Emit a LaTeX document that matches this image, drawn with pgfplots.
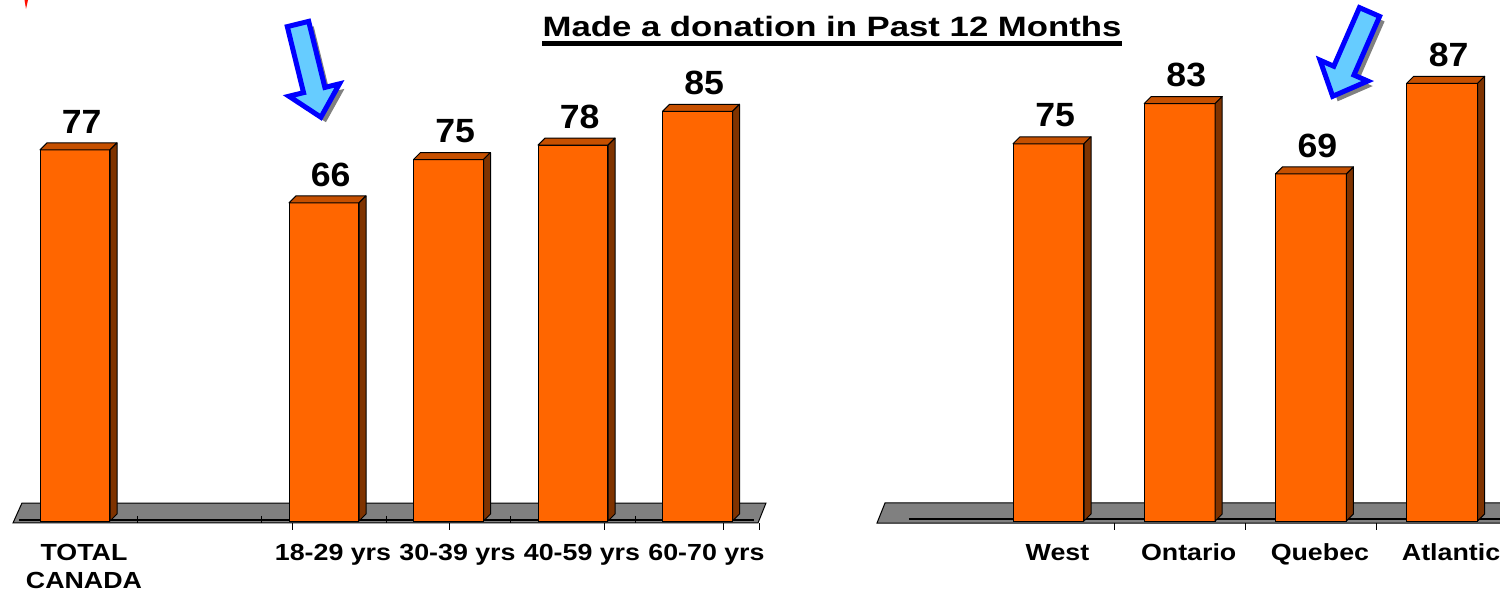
\documentclass[border=0pt]{standalone}
\usepackage{fontspec}
\setmainfont{Liberation Sans}
\newfontfamily\titlefont{Liberation Sans}[FakeStretch=1.24]
\newfontfamily\tickfont{Liberation Sans}[FakeStretch=1.15]
\newfontfamily\valfont{Liberation Sans}[FakeStretch=1.06]
\usepackage{pgfplots}
\usepackage{pgfplotstable}
\pgfplotsset{compat=1.18}
\definecolor{barfront}{HTML}{FF6600}
\definecolor{bartop}{HTML}{C65000}
\definecolor{barside}{HTML}{7F3300}
\definecolor{floorgray}{HTML}{808080}
\definecolor{arrowfill}{HTML}{66CCFF}
\definecolor{arrowline}{HTML}{0000FF}
\definecolor{shadowgray}{HTML}{808080}
\pgfdeclareplotmark{nomark}{}

\pgfplotstableread{
x v
0 77
2 66
3 75
4 78
5 85
}\leftdata
\pgfplotstableread{
x v
0 75
1 83
2 69
3 87
}\rightdata

\pgfplotsset{
  bar3d/.style n args={3}{%
    only marks, mark=nomark, scatter,
    visualization depends on={rawy \as \val},
    scatter/@pre marker code/.code={%
      \pgfmathsetmacro\hh{\val*#3}%
      \filldraw[fill=bartop, draw=black, line width=0.5pt, line join=round]
        (-#1pt,0pt) -- (#1pt,0pt) -- (#1pt+#2pt,#2pt) -- (-#1pt+#2pt,#2pt) -- cycle;
      \filldraw[fill=barside, draw=black, line width=0.5pt, line join=round]
        (#1pt,0pt) -- (#1pt+#2pt,#2pt) -- (#1pt+#2pt,#2pt-\hh pt) -- (#1pt,-\hh pt) -- cycle;
    },
    scatter/@post marker code/.code={},
  },
  chartbase/.style={
    scale only axis, anchor=south west, clip=false,
    ymin=0, ymax=100,
    axis x line*=bottom, hide y axis,
    x axis line style={draw=none},
    major tick length=0pt,
    xtick style={draw=none},
    /pgf/number format/assume math mode=true,
    xticklabel style={font=\tickfont\bfseries\fontsize{11.65pt}{14pt}\selectfont,
      align=center, anchor=north, inner sep=0pt, yshift=-11.3pt, xshift=4.5pt},
    every node near coord/.append style={font=\valfont\bfseries\fontsize{16.8pt}{19pt}\selectfont,
      inner sep=0pt, xshift=3.3pt, yshift=8pt, anchor=south, text=black},
  },
}

\newcommand\blockarrow[4]{% x y angle length (px)
  \begin{scope}[shift={(#1+5,#2-5)}, rotate=#3]
    \fill[shadowgray] (0,-11) -- (#4-28,-11) -- (#4-28,-26) -- (#4,0) -- (#4-28,26) -- (#4-28,11) -- (0,11) -- cycle;
  \end{scope}
  \begin{scope}[shift={(#1,#2)}, rotate=#3]
    \filldraw[fill=arrowfill, draw=arrowline, line width=2.5pt, miter limit=10]
      (0,-11) -- (#4-28,-11) -- (#4-28,-26) -- (#4,0) -- (#4-28,26) -- (#4-28,11) -- (0,11) -- cycle;
  \end{scope}
}

\begin{document}
\begin{tikzpicture}
\useasboundingbox (0,0) rectangle (750pt,295.5pt);
\clip (0,0) rectangle (750pt,295.5pt);

% left chart
\begin{axis}[chartbase,
  at={(6.375pt,35pt)}, width=373.5pt, height=241pt,
  xmin=-0.5, xmax=5.5,
  xtick={0,1,2,3,4,5},
  xticklabels={{TOTAL\\CANADA},{},{18-29 yrs},{30-39 yrs},{40-59 yrs},{60-70 yrs}},
]
\addplot[fill=floorgray, draw=black, line width=0.5pt] coordinates {(-0.498,-0.41) (-0.426,3.73) (5.55,3.73) (5.486,-0.41)} -- cycle;
\addplot[black, line width=0.75pt] coordinates {(-0.45,0.2) (5.45,0.2)};
\addplot[only marks, mark=|, mark size=1.75pt, black, line width=0.5pt] coordinates {(0.5,0.35) (1.5,0.35) (2.5,0.35) (3.5,0.35) (4.5,0.35)};
\addplot[only marks, mark=|, mark size=1.75pt, black, line width=0.5pt] coordinates {(1.743,-1.14) (3.004,-1.14) (4.257,-1.14) (5.205,-1.14) (5.494,-1.14)};
\addplot[ybar, bar width=0.562, fill=barfront, draw=black, line width=0.5pt, nodes near coords] table[x=x, y=v] {\leftdata};
\addplot[bar3d={17.5}{3.5}{2.41}] table[x=x, y=v] {\leftdata};
\end{axis}

% right chart
\begin{axis}[chartbase,
  at={(425.85pt,35pt)}, width=328pt, height=251.5pt,
  xmin=-1.5, xmax=3.5,
  xtick={0,1,2,3},
  xticklabels={West,Ontario,Quebec,Atlantic},
]
\addplot[fill=floorgray, draw=black, line width=0.5pt] coordinates {(-1.307,-0.4) (-1.246,3.58) (4.5,3.58) (4.5,-0.4)} -- cycle;
\addplot[black, line width=0.75pt] coordinates {(-1.064,0.4) (4.5,0.4)};
\addplot[only marks, mark=|, mark size=1.75pt, black, line width=0.5pt] coordinates {(0.5,-1.09) (1.5,-1.09) (2.5,-1.09)};
\addplot[ybar, bar width=0.541, fill=barfront, draw=black, line width=0.5pt, nodes near coords] table[x=x, y=v] {\rightdata};
\addplot[bar3d={17.75}{3.5}{2.515}] table[x=x, y=v] {\rightdata};
\end{axis}

% title
\node[anchor=base, inner sep=0pt, font=\titlefont\bfseries\fontsize{14pt}{17pt}\selectfont] (T) at (416pt,277.35pt) {Made a donation in Past 12 Months};
\draw[line width=2.2pt] ([yshift=-3.6pt]T.base west) -- ([yshift=-3.6pt]T.base east);

% arrows and small mark
\begin{scope}[x=0.5pt, y=0.5pt]
  \blockarrow{298}{567}{-76.2}{96}
  \blockarrow{1369.5}{579}{-113.6}{92}
  \fill[red!90!orange] (24.5,591) -- (28,591) -- (26,582) -- cycle;
\end{scope}
\end{tikzpicture}
\end{document}
